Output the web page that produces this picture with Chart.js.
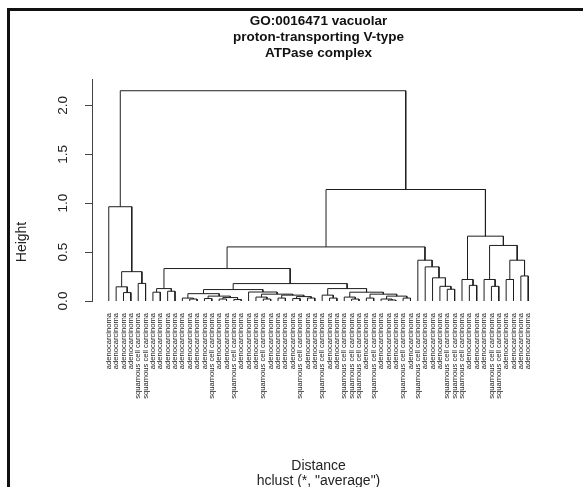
<!DOCTYPE html>
<html>
<head>
<meta charset="utf-8">
<script src="https://cdn.jsdelivr.net/npm/chart.js@4/dist/chart.umd.min.js"></script>
<style>
  body { margin: 0; background: #fff; }
  #wrap { position: relative; width: 583px; height: 487px; overflow: hidden; }
  #c { position: absolute; left: 0; top: 0; }
  #frame { position: absolute; left: 7px; top: 8px; width: 600px; height: 500px;
           border-left: 3px solid #111; border-top: 3px solid #111; pointer-events: none; }
</style>
</head>
<body>
<div id="wrap">
  <canvas id="c" width="583" height="487"></canvas>
  <div id="frame"></div>
</div>
<script>
const A = 'adenocarcinoma';
const S = 'squamous cell carcinoma';

// leaf labels in dendrogram order
const leafLabels = [
  A, A, A, A, S, S, A, A, A, A,
  A, A, A, A, S, A, A, S, A, A,
  A, S, A, A, A, A, S, A, A, S,
  A, A, S, S, S, A, S, A, A, A,
  S, A, S, A, A, A, S, S, S, A,
  A, A, S, S, A, A, A, A
];

// subtrees: [left, right, height], numbers are leaf positions
const groupA = [1, [[2, [3, 4, 0.086], 0.145], [5, 6, 0.18], 0.30], 0.964];
const group7to10 = [[7, 8, 0.09], [9, 10, 0.10], 0.127];
const group11to19 = [[11, [12, 13, 0.02], 0.03], [[14, 15, 0.025], [[16, 17, 0.02], [18, 19, 0.015], 0.035], 0.05], 0.075];
const group20to29 = [20, [[21, [22, 23, 0.02], 0.04], [[24, 25, 0.03], [[26, 27, 0.025], [28, 29, 0.03], 0.045], 0.06], 0.07], 0.092];
const group30to42 = [[30, [31, 32, 0.03], 0.06], [[33, [34, 35, 0.02], 0.04], [[36, 37, 0.03], [[38, [39, 40, 0.01], 0.02], [41, 42, 0.03], 0.05], 0.07], 0.09], 0.127];
const chain43to48 = [43, [44, [45, [46, [47, 48, 0.12], 0.15], 0.237], 0.349], 0.417];
const group49to58 = [[49, [50, 51, 0.16], 0.22], [[52, [53, 54, 0.15], 0.22], [[55, 56, 0.22], [57, 58, 0.256], 0.417], 0.568], 0.663];

const mid = [[group11to19, group20to29, 0.117], group30to42, 0.178];
const left = [[group7to10, mid, 0.332], chain43to48, 0.553];
const tree = [groupA, [left, group49to58, 1.14], 2.15];

const yTicks = [0, 0.5, 1.0, 1.5, 2.0];

// walk the tree and collect the elbow segments
const pts = [];
function walk(node) {
  if (typeof node === 'number') return { x: node, h: 0 };
  const l = walk(node[0]);
  const r = walk(node[1]);
  const h = node[2];
  pts.push({x: l.x, y: l.h}, {x: l.x, y: h}, {x: r.x, y: h}, {x: r.x, y: r.h}, {x: r.x, y: null});
  return { x: (l.x + r.x) / 2, h: h };
}
walk(tree);

const n = leafLabels.length;
const ext = 0.04 * (n - 1);

const heightLabel = {
  id: 'heightLabel',
  afterDraw(chart) {
    const ctx = chart.ctx;
    ctx.save();
    ctx.translate(22, 242);
    ctx.rotate(-Math.PI / 2);
    ctx.font = '14px "Liberation Sans", Arial, sans-serif';
    ctx.fillStyle = '#222';
    ctx.textAlign = 'center';
    ctx.textBaseline = 'middle';
    ctx.fillText('Height', 0, 0);
    ctx.restore();
  }
};

new Chart(document.getElementById('c'), {
  type: 'line',
  data: {
    datasets: [{
      data: pts,
      borderColor: '#1e1e1e',
      borderWidth: 1,
      pointRadius: 0,
      spanGaps: false,
      tension: 0
    }]
  },
  options: {
    responsive: false,
    animation: false,
    layout: { padding: { left: 0, right: 38, top: 0, bottom: 0 } },
    plugins: {
      legend: { display: false },
      tooltip: { enabled: false },
      title: {
        display: true,
        fullSize: false,
        text: ['GO:0016471 vacuolar', 'proton-transporting V-type', 'ATPase complex'],
        color: '#111',
        font: { family: '"Liberation Sans", Arial, sans-serif', size: 13.5, weight: 'bold', lineHeight: '16px' },
        padding: { top: 13, bottom: 18 }
      }
    },
    scales: {
      x: {
        type: 'linear',
        min: 1 - ext,
        max: n + ext,
        grid: { display: false },
        border: { display: false },
        afterBuildTicks: s => { s.ticks = leafLabels.map((_, i) => ({ value: i + 1 })); },
        afterFit: s => { s.height = 186; },
        ticks: {
          autoSkip: false,
          minRotation: 90,
          maxRotation: 90,
          padding: 4,
          color: '#222',
          font: { family: '"Liberation Sans", Arial, sans-serif', size: 7.6 },
          callback: v => leafLabels[v - 1]
        },
        title: {
          display: true,
          text: ['Distance', 'hclust (*, "average")'],
          color: '#222',
          font: { family: '"Liberation Sans", Arial, sans-serif', size: 14, lineHeight: '15px' },
          padding: { top: 0, bottom: -2 }
        }
      },
      y: {
        type: 'linear',
        min: 0,
        max: 2.27,
        afterBuildTicks: s => { s.ticks = yTicks.map(v => ({ value: v })); },
        afterFit: s => { s.width = 92; },
        grid: { drawOnChartArea: false, drawTicks: true, tickLength: 7, color: '#444' },
        border: { display: true, color: '#444', width: 1 },
        ticks: {
          minRotation: 90,
          maxRotation: 90,
          crossAlign: 'center',
          padding: 12,
          color: '#222',
          font: { family: '"Liberation Sans", Arial, sans-serif', size: 13.5 },
          callback: v => v.toFixed(1)
        }
      }
    }
  },
  plugins: [heightLabel]
});
</script>
</body>
</html>
